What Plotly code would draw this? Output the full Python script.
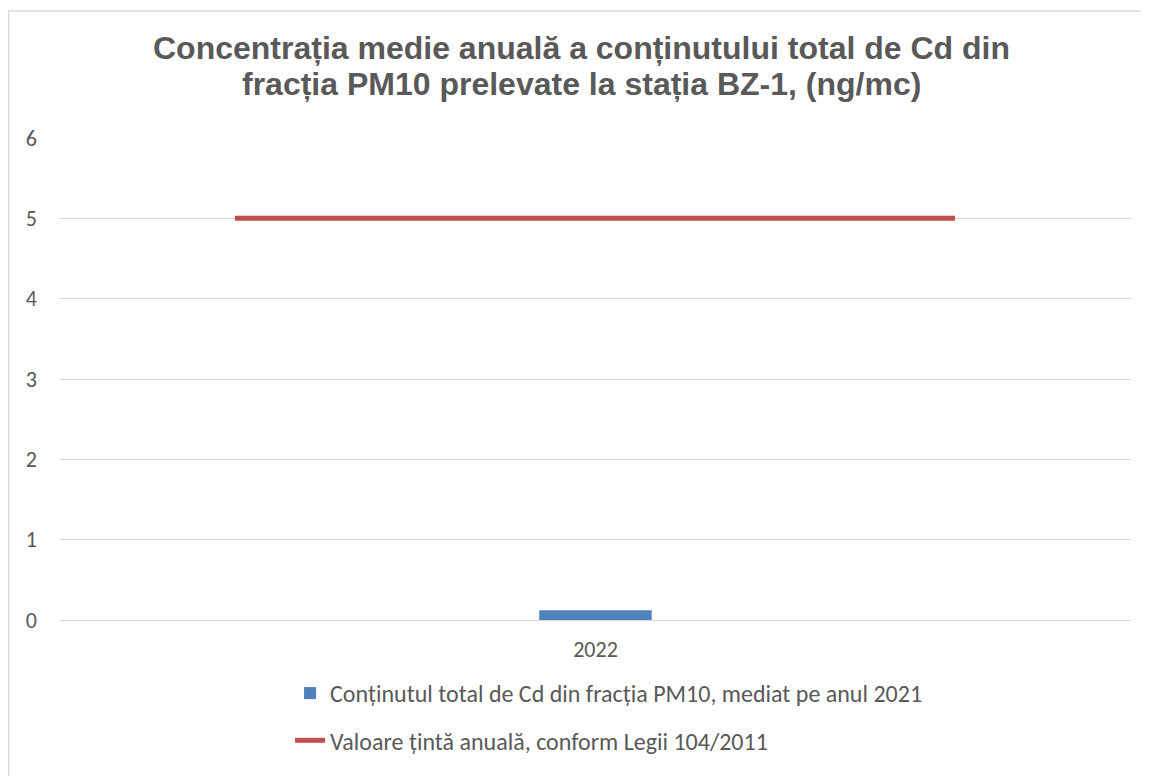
import plotly.graph_objects as go

# ---- data ----
categories = ["2022"]
cd_values = [0.12]
bar_name = "Conținutul total de Cd din fracția PM10, mediat pe anul 2021"

target_value = 5
target_span = [0, 1]          # start / end of the target-line period (hidden axis)
line_name = "Valoare țintă anuală, conform Legii 104/2011"

y_ticks = [0, 1, 2, 3, 4, 5, 6]
title_lines = ["Concentrația medie anuală a conținutului total de Cd din",
               "fracția PM10 prelevate la stația BZ-1, (ng/mc)"]

FONT = "Carlito, Lato, 'Open Sans', sans-serif"
GRAY = "#595959"

fig = go.Figure()
fig.add_trace(go.Bar(
    x=categories, y=cd_values, name=bar_name,
    marker=dict(color="#4F81BD", line=dict(width=0)),
    legendgroup="a",
))
fig.add_trace(go.Scatter(
    x=target_span, y=[target_value] * len(target_span), name=line_name,
    mode="lines", line=dict(color="#C0504D", width=5),
    xaxis="x2", legendgroup="b",
))

title_annotations = [
    dict(
        text=txt, xref="paper", yref="paper", x=0.4865, y=1.228 - i * 36 / 482,
        xanchor="center", yanchor="top", showarrow=False, align="center",
        font=dict(family="Liberation Sans, Arial, sans-serif", size=32, color=GRAY, weight="bold"),
    )
    for i, txt in enumerate(title_lines)
]

fig.update_layout(
    width=1141, height=768,
    margin=dict(l=52, r=18, t=130, b=156),
    paper_bgcolor="white", plot_bgcolor="white",
    bargap=0.895,
    showlegend=True,
    xaxis=dict(
        type="category", range=[-0.5, 0.5], showgrid=False, showline=False, zeroline=False,
        ticks="", tickfont=dict(family=FONT, size=22, color=GRAY), ticklabelstandoff=14,
    ),
    xaxis2=dict(
        overlaying="x", range=[-0.2430, 1.2444], visible=False,
    ),
    yaxis=dict(
        range=[0, 6], tickvals=y_ticks, showgrid=True, gridcolor="#D9D9D9", gridwidth=1,
        zeroline=True, zerolinecolor="#D9D9D9", zerolinewidth=1, showline=False, ticks="",
        tickfont=dict(family=FONT, size=22, color=GRAY), ticklabelstandoff=22,
    ),
    legend=dict(
        orientation="v", x=0.2148, xanchor="left", y=-0.1058, yanchor="top",
        font=dict(family=FONT, size=24, color=GRAY), tracegroupgap=13,
        bgcolor="rgba(0,0,0,0)",
    ),
    annotations=title_annotations,
    shapes=[dict(
        type="path", xref="paper", yref="paper",
        path="M -0.0479,-0.4 L -0.0479,1.2635 L 1.1,1.2635",
        line=dict(color="#D9D9D9", width=1.5), layer="below",
    )],
)

fig.write_html("out.html")
